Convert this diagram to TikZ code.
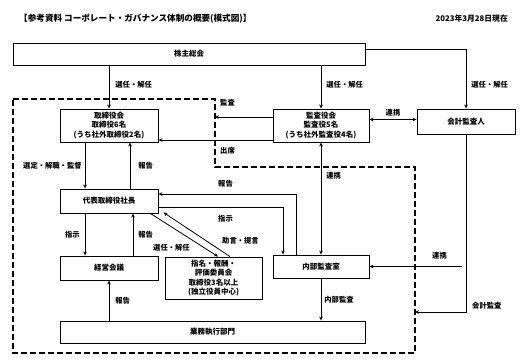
\documentclass[tikz,border=0pt]{standalone}
\usepackage{fontspec}
\setmainfont{Noto Sans CJK JP}
\usetikzlibrary{arrows.meta, positioning}

\begin{document}
\begin{tikzpicture}[
  x=1pt, y=-1pt,
  box/.style={draw, line width=0.9pt, inner sep=0pt,
              font=\fontsize{7.5}{9.5}\selectfont\bfseries, align=center},
  arrow/.style={-{Stealth[length=4pt,width=3.6pt]}, line width=0.8pt},
  dblarrow/.style={{Stealth[length=4pt,width=3.6pt]}-{Stealth[length=4pt,width=3.6pt]},
                   line width=0.8pt},
  ann/.style={font=\fontsize{7.3}{8}\selectfont\bfseries, anchor=west, inner sep=0pt},
  area/.style={line width=1.6pt, dash pattern=on 6pt off 3pt}
]
\useasboundingbox (0,0) rectangle (529,362);

% heading
\node[ann, font=\fontsize{8.6}{9}\selectfont\bfseries] (title) at (19,19)
  {【参考資料\ コーポレート・ガバナンス体制の概要(模式図)】};
\node[ann, anchor=east, font=\fontsize{7.8}{9}\selectfont\bfseries] (date) at (508,19)
  {2023年3月28日現在};

% executive area
\draw[area] (13,99) -- (215,99) -- (215,167) -- (415,167)
            -- (415,353) -- (13,353) -- cycle;

% bodies
\node[box, minimum width=352, minimum height=22] (meeting)   at (189,54)    {株主総会};
\node[box, minimum width=98,  minimum height=33] (board)     at (109,125.5) {取締役会\\取締役6名\\(うち社外取締役2名)};
\node[box, minimum width=96,  minimum height=33] (kansa)     at (321,125.5) {監査役会\\監査役5名\\(うち社外監査役4名)};
\node[box, minimum width=98,  minimum height=25] (auditor)   at (466,121.5) {会計監査人};
\node[box, minimum width=98,  minimum height=24] (ceo)       at (109,201)   {代表取締役社長};
\node[box, minimum width=98,  minimum height=24] (mgmt)      at (109,268)   {経営会議};
\node[box, minimum width=97,  minimum height=42] (committee) at (213.5,278) {指名・報酬・\\評価委員会\\取締役3名以上\\(独立役員中心)};
\node[box, minimum width=96,  minimum height=23] (internal)  at (321,266.5) {内部監査室};
\node[box, minimum width=305, minimum height=22] (dept)      at (212.5,332) {業務執行部門};

% free ends on the area border
\coordinate (audit)  at (215,117);
\coordinate (acct)   at (415,312);
\coordinate (liaise) at (462,266.5);
\coordinate (attend) at ([yshift=-14.5pt]board.east);

% shareholders
\draw[arrow] (board.north |- meeting.south) -- (board.north)
  node[ann, pos=0.45, right=6pt] {選任・解任};
\draw[arrow] (kansa.north |- meeting.south) -- (kansa.north)
  node[ann, pos=0.45, right=5pt] {選任・解任};
\draw[arrow] ([yshift=5pt]meeting.east) -| (auditor.north)
  node[ann, pos=0.8, right=5pt] {選任・解任};

% audit board
\draw[arrow] (kansa.west |- audit) -- (audit);
\node[ann] (auditlbl) at (220,103) {監査};
\draw[arrow] (kansa.west |- attend) -- (attend);
\node[ann] (attendlbl) at (220,151) {出席};
\draw[dblarrow] ([yshift=6pt]kansa.east) -- ([yshift=6pt]kansa.east -| auditor.west)
  node[ann, midway, above=3pt, anchor=south] {連携};
\draw[dblarrow] (kansa.south) -- (internal.north)
  node[ann, pos=0.3, right=5pt] {連携};

% board and president
\draw[arrow] ([xshift=-24pt]board.south) -- ([xshift=-24pt]ceo.north)
  node[ann, midway, anchor=east, left=3pt] {選定・解職・監督};
\draw[arrow] ([xshift=21pt]ceo.north) -- ([xshift=21pt]board.south)
  node[ann, midway, right=8pt] {報告};
\draw[arrow] ([xshift=-24pt]ceo.south) -- ([xshift=-24pt]mgmt.north)
  node[ann, midway, anchor=east, left=5pt] {指示};
\draw[arrow] ([xshift=24pt]mgmt.north) -- ([xshift=24pt]ceo.south)
  node[ann, midway, right=5pt] {報告};
\draw[arrow] (mgmt.south |- dept.north) -- (mgmt.south)
  node[ann, midway, right=6pt] {報告};

% internal audit
\draw[arrow] ([xshift=-25pt]internal.north) |- ([yshift=7pt]ceo.east);
\node[ann] (reportlbl) at (218,184) {報告};
\draw[arrow] ([yshift=-6pt]ceo.east) -| ([xshift=-38pt]internal.north);
\node[ann] (orderlbl) at (218,219) {指示};
\draw[arrow] (internal.south) -- (internal.south |- dept.north)
  node[ann, midway, right=3pt] {内部監査};
\draw[arrow] (liaise) -- (internal.east);
\node[ann] (liaiselbl) at (432,256) {連携};

% committee
\draw[arrow] ([xshift=-8pt]ceo.south east) -- ([xshift=4.5pt]committee.north);
\node[ann] (electlbl) at (153,248) {選任・解任};
\draw[arrow] ([xshift=16.5pt]committee.north) -- ([xshift=5pt,yshift=1pt]ceo.south east);
\node[ann] (advicelbl) at (222,241) {助言・提言};

% accounting audit
\draw[arrow] (auditor.south) |- (acct);
\node[ann] (acctlbl) at (472,306) {会計監査};
\end{tikzpicture}
\end{document}
